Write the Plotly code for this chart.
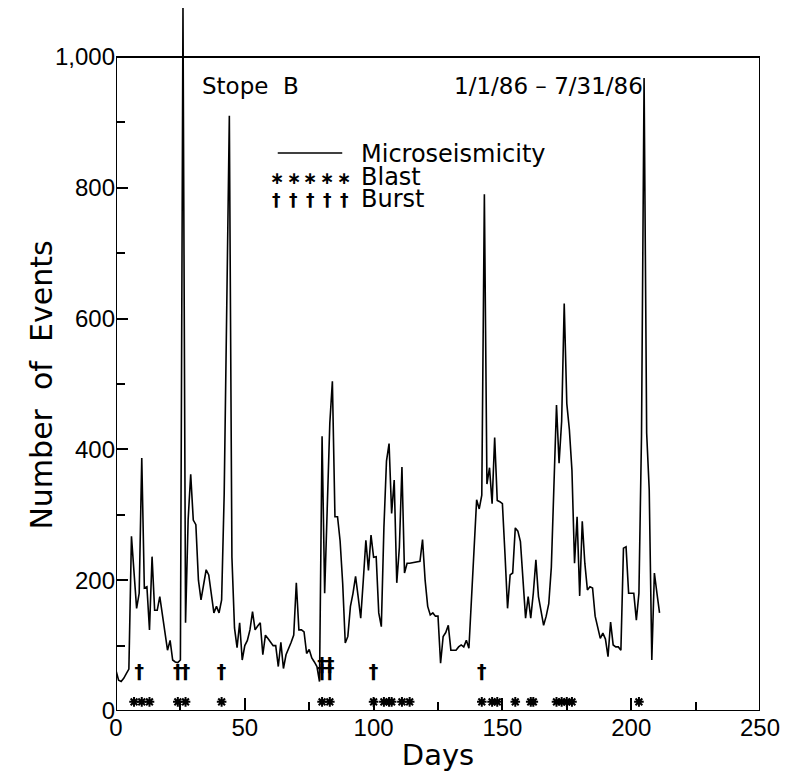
import plotly.graph_objects as go

# ---------------- data ----------------
days = list(range(212))
events = [
    62, 47, 45, 50, 57, 64, 267, 205, 157, 180,
    387, 188, 190, 124, 236, 154, 154, 175, 148, 127,
    93, 108, 78, 75, 74, 78, 1075, 135, 292, 362,
    292, 285, 200, 170, 195, 216, 208, 175, 150, 160,
    150, 170, 332, 620, 910, 235, 127, 97, 135, 78,
    100, 108, 124, 152, 124, 130, 135, 86, 116, 111,
    105, 100, 100, 68, 105, 65, 86, 95, 105, 116,
    196, 124, 124, 121, 88, 94, 81, 75, 68, 45,
    420, 180, 300, 440, 504, 297, 297, 260, 195, 104,
    114, 160, 180, 206, 175, 142, 200, 261, 215, 269,
    235, 236, 150, 129, 280, 382, 409, 302, 353, 196,
    250, 373, 211, 226, 226, 227, 227, 228, 229, 262,
    200, 160, 147, 150, 145, 145, 73, 114, 120, 131,
    93, 93, 93, 98, 101, 98, 108, 96, 170, 250,
    323, 309, 330, 790, 347, 372, 317, 418, 322, 320,
    317, 240, 157, 208, 211, 280, 275, 259, 200, 142,
    175, 142, 180, 231, 175, 150, 131, 145, 164, 220,
    350, 468, 379, 443, 623, 470, 430, 368, 226, 297,
    176, 290, 226, 185, 190, 188, 145, 130, 111, 119,
    110, 83, 136, 101, 98, 98, 93, 249, 251, 180,
    180, 180, 139, 180, 420, 968, 425, 338, 78, 211,
    180, 150,
]
blast_days = [7, 10, 13, 24, 27, 41, 80, 83, 100, 104, 106, 107, 111, 114,
              142, 146, 148, 155, 161, 162, 171, 173, 175, 177, 203]
burst_days = [9, 24, 27, 41, 80, 80, 83, 83, 100, 142]

y_tickvals = [0, 200, 400, 600, 800, 1000]
y_ticktext = ["0", "200", "400", "600", "800", "1,000"]
y_minor = [100, 300, 500, 700, 900]
x_tickvals = [0, 50, 100, 150, 200, 250]
x_minor = [25, 75, 125, 175, 225]

title_left = "Stope\u00a0\u00a0B"
title_right = "1/1/86\u00a0\u2013\u00a07/31/86"
legend_labels = ["Microseismicity", "Blast", "Burst"]

# ---------------- layout geometry (screen pixels) ----------------
W, H = 786, 775
L, R, T, B = 116, 765, 6, 711
PX_PER_UNIT = 0.654
Y_TOP = (B - T) / PX_PER_UNIT
BLAST_LEVEL = 14
BURST_LEVEL = 57
BURST_STACK = 12

def px(x):
    return (x - L) / (R - L)

def py(y):
    return (B - y) / (B - T)

burst_y = []
seen = {}
for d in burst_days:
    k = seen.get(d, 0)
    burst_y.append(BURST_LEVEL + BURST_STACK * k)
    seen[d] = k + 1

TEXT_FONT = "DejaVu Sans"
TICK_FONT = "Liberation Sans, Arial"
BURST_CHAR = "<b>\u2020</b>"

fig = go.Figure()
fig.add_trace(go.Scatter(
    x=days, y=events, mode="lines",
    line=dict(color="black", width=1.6),
    name=legend_labels[0], showlegend=False,
))
fig.add_trace(go.Scatter(
    x=blast_days, y=[BLAST_LEVEL] * len(blast_days), mode="markers",
    marker=dict(symbol="asterisk-open", size=8, color="black",
                line=dict(color="black", width=2)),
    name=legend_labels[1], showlegend=False, cliponaxis=False,
))
fig.add_trace(go.Scatter(
    x=burst_days, y=burst_y, mode="text", text=[BURST_CHAR] * len(burst_days),
    textfont=dict(family=TEXT_FONT, size=19, color="black"),
    textposition="middle center",
    name=legend_labels[2], showlegend=False, cliponaxis=False,
))

# frame
fig.add_shape(type="rect", xref="x", yref="y", x0=0, x1=250, y0=0, y1=1000,
              line=dict(color="black", width=2), layer="above")

# legend (drawn like the original)
fig.add_shape(type="line", xref="paper", yref="paper",
              x0=px(279), x1=px(344), y0=py(153), y1=py(153),
              line=dict(color="black", width=1.6))
ann = []
sample_x = [278, 295, 312, 329, 346]
for sx in sample_x:
    ann.append(dict(text="<b>\u2217</b>", x=px(sx), y=py(178), xanchor="center", yanchor="middle",
                    font=dict(family=TEXT_FONT, size=17, color="black")))
    ann.append(dict(text=BURST_CHAR, x=px(sx), y=py(200), xanchor="center", yanchor="middle",
                    font=dict(family=TEXT_FONT, size=17, color="black")))
for lbl, yy in zip(legend_labels, [154, 177, 199]):
    ann.append(dict(text=lbl, x=px(361), y=py(yy), xanchor="left", yanchor="middle",
                    font=dict(family=TEXT_FONT, size=24, color="black")))
# header texts
ann.append(dict(text=title_left, x=px(201), y=py(86), xanchor="left", yanchor="middle",
                font=dict(family=TEXT_FONT, size=23, color="black")))
ann.append(dict(text=title_right, x=px(455), y=py(86), xanchor="left", yanchor="middle",
                font=dict(family=TEXT_FONT, size=23, color="black")))
# y-axis title
ann.append(dict(text="Number\u00a0\u00a0of\u00a0\u00a0Events", x=px(40), y=py(385), textangle=-90,
                xanchor="center", yanchor="middle",
                font=dict(family=TEXT_FONT, size=30, color="black")))
for a in ann:
    a.update(xref="paper", yref="paper", showarrow=False)
fig.update_layout(annotations=ann)

fig.update_xaxes(
    range=[0, 250], showgrid=False, zeroline=False, showline=False,
    tickmode="array", tickvals=x_tickvals, ticks="inside", ticklen=13, tickwidth=1.5,
    tickcolor="black",
    tickfont=dict(family=TICK_FONT, size=24, color="black"),
    minor=dict(tickmode="array", tickvals=x_minor, ticks="inside", ticklen=9,
               tickwidth=1.5, tickcolor="black", showgrid=False),
    title=dict(text="Days", font=dict(family=TEXT_FONT, size=29, color="black"), standoff=4),
)
fig.update_yaxes(
    range=[0, Y_TOP], showgrid=False, zeroline=False, showline=False,
    tickmode="array", tickvals=y_tickvals, ticktext=y_ticktext,
    ticks="inside", ticklen=12, tickwidth=1.5, tickcolor="black",
    tickfont=dict(family=TICK_FONT, size=24, color="black"),
    minor=dict(tickmode="array", tickvals=y_minor, ticks="inside", ticklen=9,
               tickwidth=1.5, tickcolor="black", showgrid=False),
)
fig.update_layout(
    width=W, height=H,
    margin=dict(l=L, r=W - R, t=T, b=H - B),
    plot_bgcolor="white", paper_bgcolor="white",
    showlegend=False,
)
fig.write_html(
    "out.html",
    config={"displayModeBar": False},
    post_script="document.body.style.margin='0';document.body.style.overflow='hidden';",
)
